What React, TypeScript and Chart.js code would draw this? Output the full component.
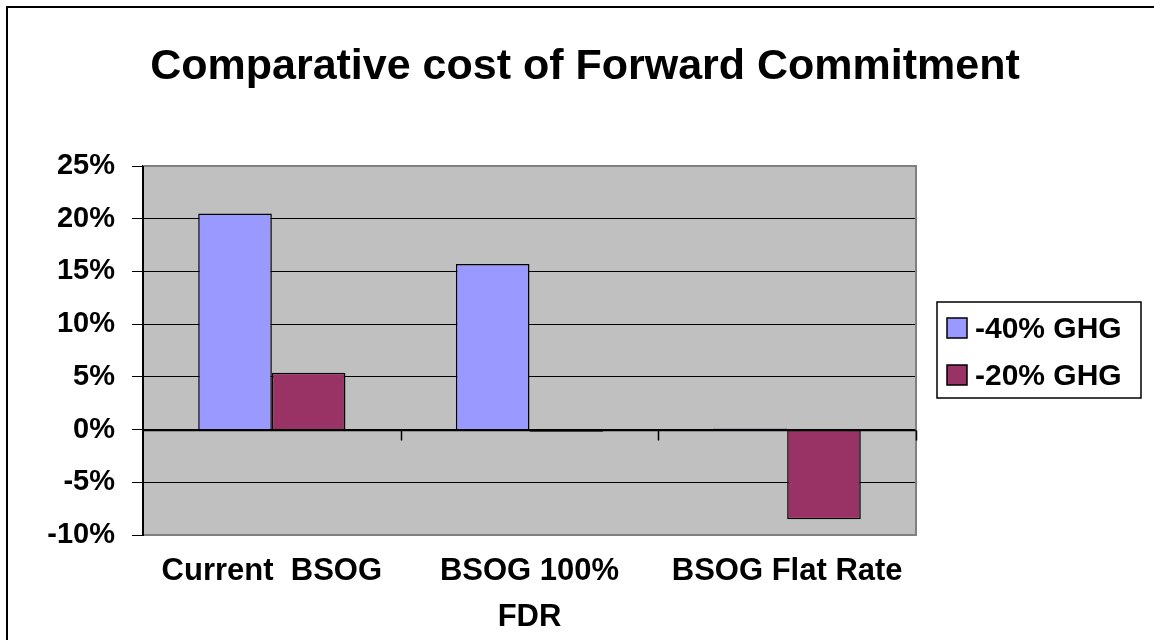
import React, { useEffect, useRef } from "react";
import { Chart, registerables } from "chart.js";

Chart.register(...registerables);

const titleText = "Comparative cost of Forward Commitment";
const categories: string[][] = [["Current  BSOG"], ["BSOG 100%", "FDR"], ["BSOG Flat Rate"]];
const seriesLabels = ["-40% GHG", "-20% GHG"];
const series40 = [20.5, 15.7, 0.1];
const series20 = [5.4, -0.2, -8.5];
const seriesColors = ["#9999FF", "#993366"];
const yMin = -10;
const yMax = 25;
const yStep = 5;

const FONT = "Arial, 'Liberation Sans', Helvetica, sans-serif";

const framePlugin = {
  id: "frame",
  beforeDraw(chart: any) {
    const { ctx, chartArea: a } = chart;
    ctx.save();
    ctx.fillStyle = "#ffffff";
    ctx.fillRect(0, 0, chart.width, chart.height);
    // outer chart border
    ctx.strokeStyle = "#000";
    ctx.lineWidth = 2;
    ctx.strokeRect(7, 7, 1300, 800);
    // plot background
    ctx.fillStyle = "#C0C0C0";
    ctx.fillRect(a.left, a.top, a.right - a.left, a.bottom - a.top);
    ctx.restore();
  },
  afterDatasetsDraw(chart: any) {
    const { ctx, chartArea: a, scales } = chart;
    const x = scales.x;
    const y = scales.y;
    ctx.save();
    // plot area border (grey) top/right/bottom
    ctx.strokeStyle = "#808080";
    ctx.lineWidth = 2;
    ctx.beginPath();
    ctx.moveTo(a.left, a.top);
    ctx.lineTo(a.right, a.top);
    ctx.lineTo(a.right, a.bottom);
    ctx.lineTo(a.left, a.bottom);
    ctx.stroke();
    // zero line with category tick marks
    const y0 = Math.round(y.getPixelForValue(0)) + 0.5;
    ctx.strokeStyle = "#000";
    ctx.lineWidth = 1.5;
    ctx.beginPath();
    ctx.moveTo(a.left, y0);
    ctx.lineTo(a.right, y0);
    const n = categories.length;
    for (let i = 0; i < n; i++) {
      const bx = i < n - 1 ? (x.getPixelForValue(i) + x.getPixelForValue(i + 1)) / 2 : a.right;
      const px = Math.round(bx) + 0.5;
      ctx.moveTo(px, y0);
      ctx.lineTo(px, y0 + 10);
    }
    ctx.stroke();
    // left axis line
    ctx.lineWidth = 2;
    ctx.beginPath();
    ctx.moveTo(a.left, a.top);
    ctx.lineTo(a.left, a.bottom + 1);
    ctx.stroke();
    ctx.restore();
  },
  afterDraw(chart: any) {
    const { ctx } = chart;
    ctx.save();
    // title
    ctx.fillStyle = "#000";
    ctx.font = `bold 43px ${FONT}`;
    ctx.textAlign = "center";
    ctx.textBaseline = "alphabetic";
    ctx.fillText(titleText, 585, 79);
    // legend
    ctx.strokeStyle = "#000";
    ctx.lineWidth = 1.5;
    ctx.strokeRect(937, 302, 204, 96);
    ctx.font = `bold 30px ${FONT}`;
    ctx.textAlign = "left";
    seriesLabels.forEach((lab, i) => {
      const top = 318 + i * 47;
      ctx.fillStyle = seriesColors[i];
      ctx.fillRect(947, top, 20, 20);
      ctx.strokeStyle = "#000";
      ctx.lineWidth = 1.5;
      ctx.strokeRect(947, top, 20, 20);
      ctx.fillStyle = "#000";
      ctx.fillText(lab, 975, top + 20);
    });
    ctx.restore();
  },
};

export default function App() {
  const ref = useRef<HTMLCanvasElement | null>(null);
  useEffect(() => {
    if (!ref.current) return;
    const chart = new Chart(ref.current, {
      type: "bar",
      data: {
        labels: categories as any,
        datasets: [
          {
            label: seriesLabels[0],
            data: series40,
            backgroundColor: seriesColors[0],
            borderColor: "#000",
            borderWidth: 1.5,
            categoryPercentage: 0.5714,
            barPercentage: 1,
          },
          {
            label: seriesLabels[1],
            data: series20,
            backgroundColor: seriesColors[1],
            borderColor: "#000",
            borderWidth: 1.5,
            categoryPercentage: 0.5714,
            barPercentage: 1,
          },
        ],
      },
      options: {
        animation: false,
        responsive: false,
        maintainAspectRatio: false,
        layout: { padding: { top: 166, right: 238, left: 0, bottom: 0 } },
        plugins: {
          legend: { display: false },
          title: { display: false },
          tooltip: { enabled: false },
        },
        scales: {
          x: {
            grid: { display: false, drawTicks: false },
            border: { display: false },
            ticks: {
              color: "#000",
              padding: 14,
              maxRotation: 0,
              autoSkip: false,
              font: { family: FONT, size: 31, weight: "bold", lineHeight: 1.47 },
            },
            afterFit: (s: any) => {
              s.height = 105;
            },
          },
          y: {
            min: yMin,
            max: yMax,
            ticks: {
              stepSize: yStep,
              color: "#000",
              padding: 17,
              font: { family: FONT, size: 29, weight: "bold" },
              callback: (v: any) => `${v}%`,
            },
            grid: { color: "#000", lineWidth: 1, tickLength: 11, drawTicks: true },
            border: { color: "#000", width: 2 },
            afterFit: (s: any) => {
              s.width = 143;
            },
          },
        },
      },
      plugins: [framePlugin],
    });
    return () => chart.destroy();
  }, []);
  return (
    <div style={{ position: "fixed", left: 0, top: 0, width: 1154, height: 640, background: "#fff" }}>
      <canvas ref={ref} width={1154} height={640} style={{ display: "block" }} />
    </div>
  );
}
